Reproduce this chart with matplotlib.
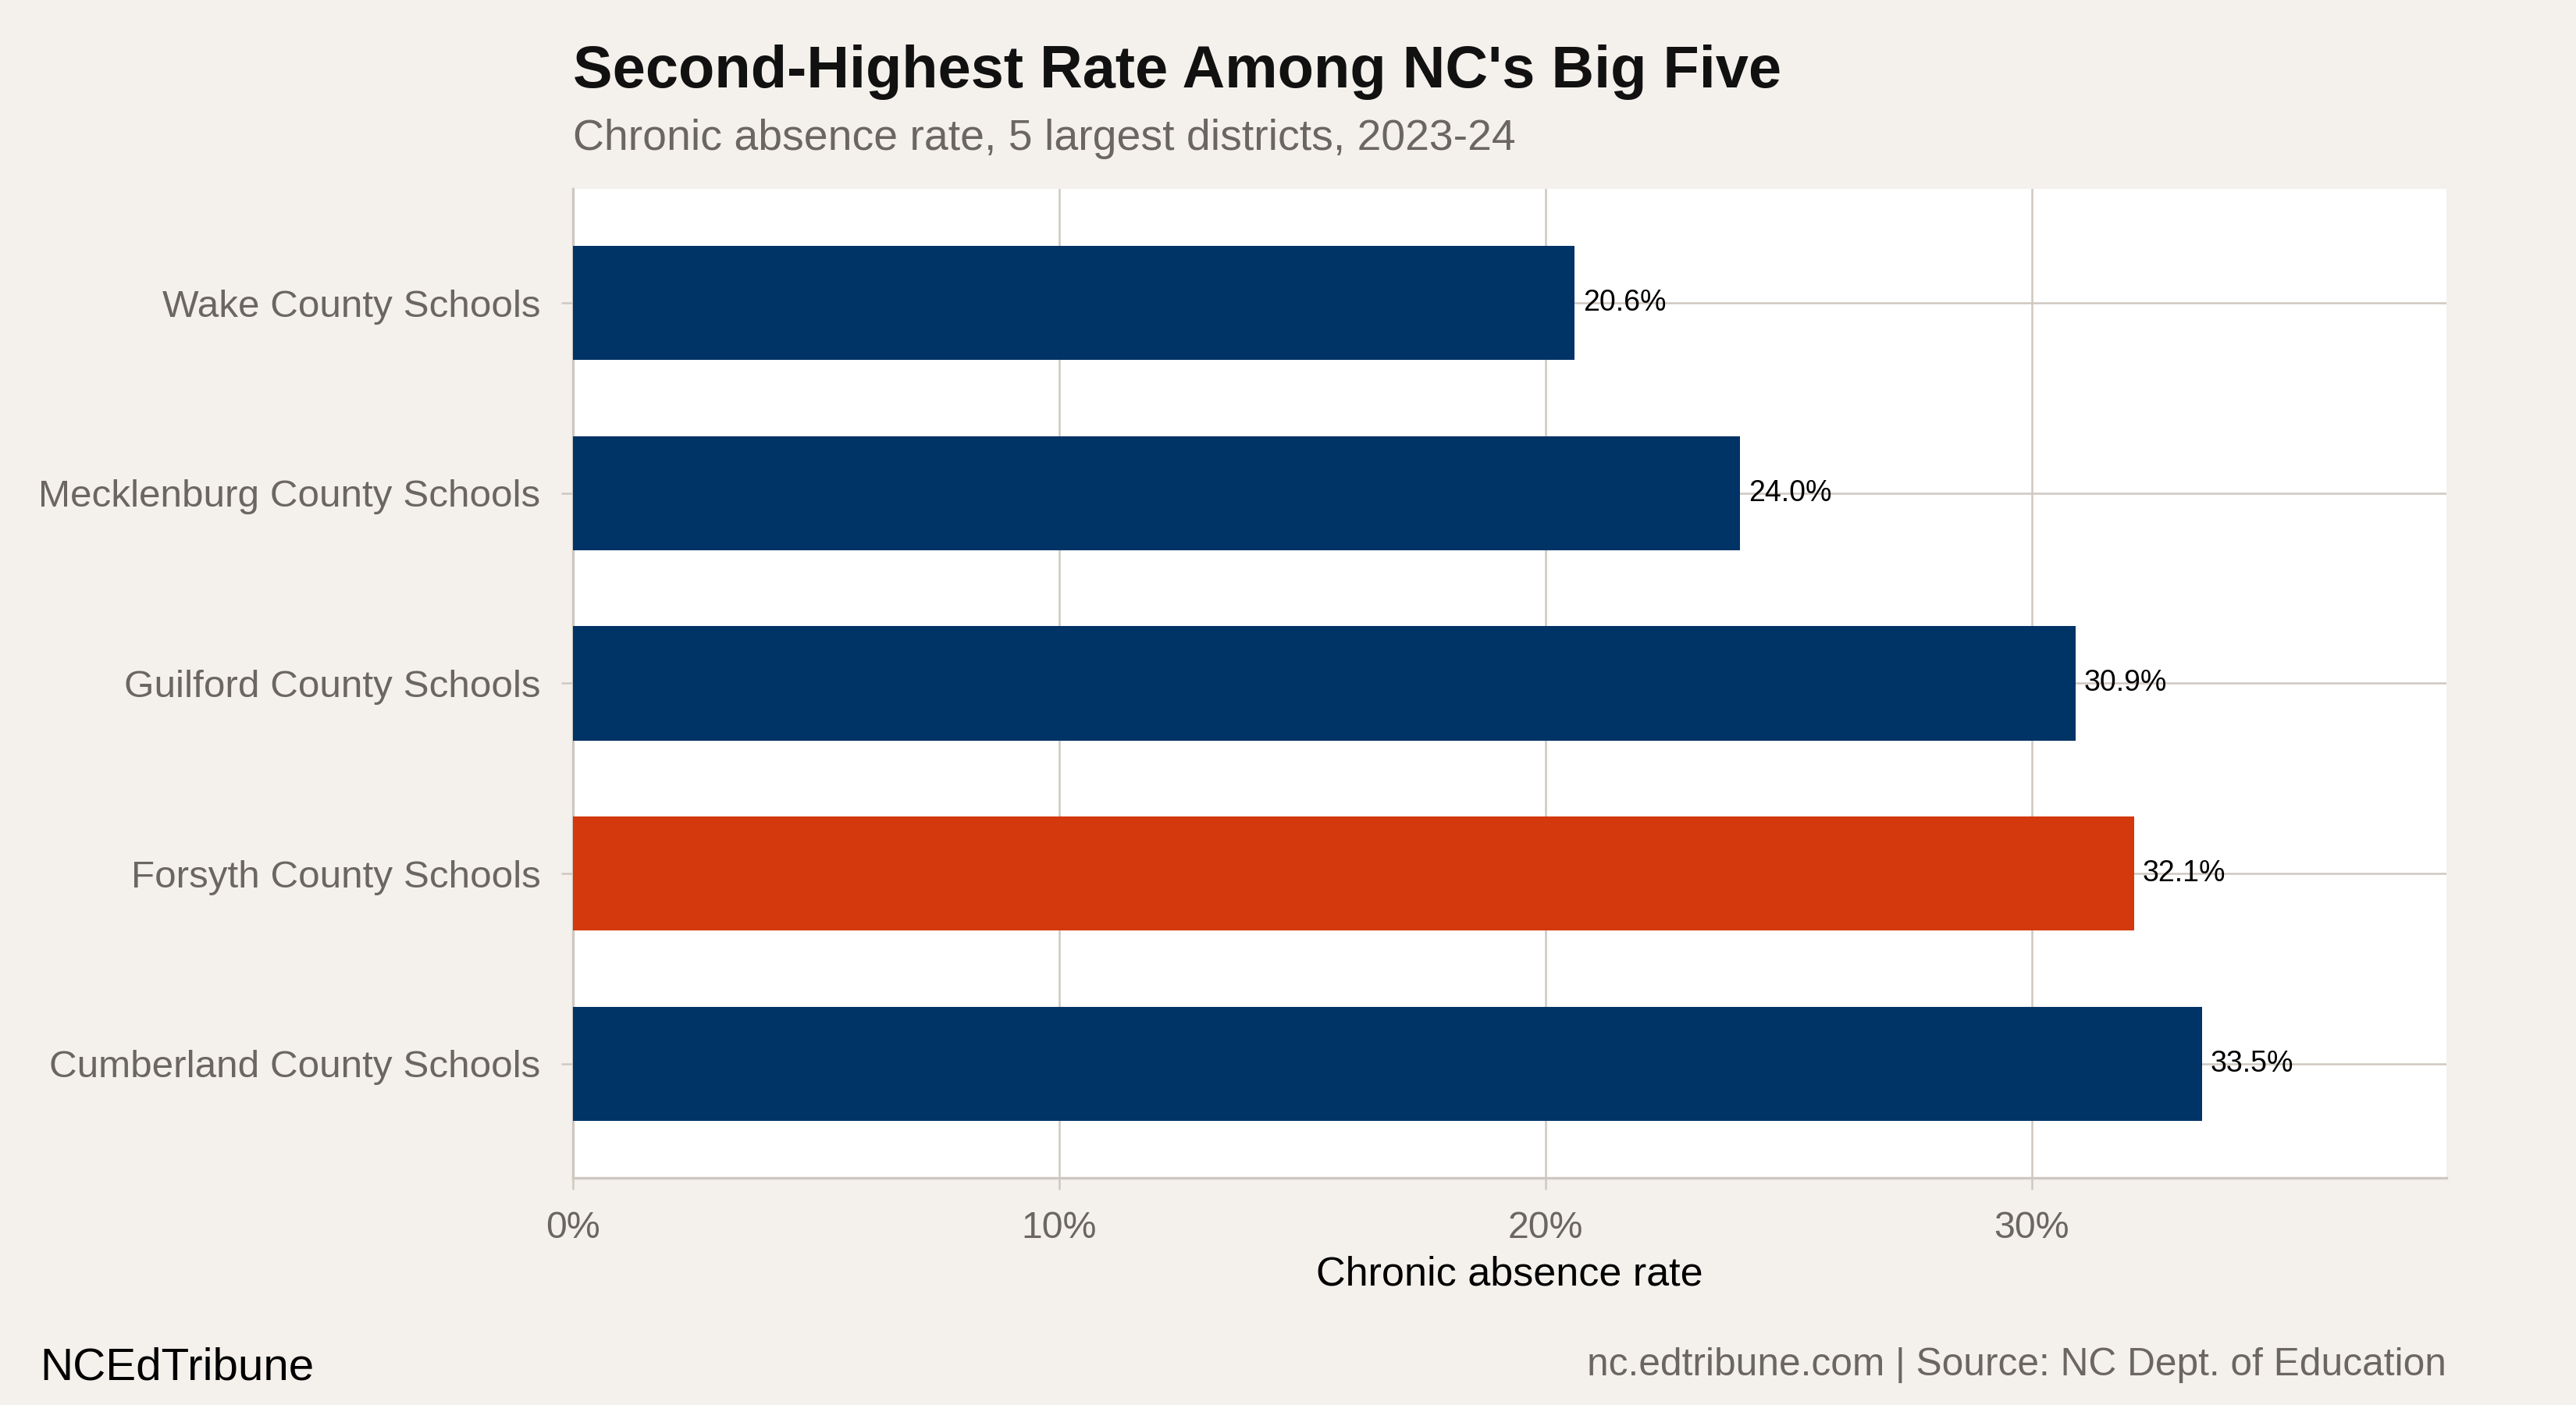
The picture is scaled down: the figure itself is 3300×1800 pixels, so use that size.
import matplotlib.pyplot as plt
import numpy as np

# data
districts = ["Wake County Schools", "Mecklenburg County Schools", "Guilford County Schools",
             "Forsyth County Schools", "Cumberland County Schools"]
rates = [20.6, 24.0, 30.9, 32.1, 33.5]
highlight = "Forsyth County Schools"
x_ticks = [0, 10, 20, 30]
x_tick_labels = ["0%", "10%", "20%", "30%"]

NAVY = "#003366"
ORANGE = "#D4380D"
BG = "#F4F1EC"
GRID = "#CEC8C0"
GREY_TXT = "#6B6760"

plt.rcParams['font.family'] = ['Liberation Sans', 'DejaVu Sans']

fig = plt.figure(figsize=(11, 6), dpi=300, facecolor=BG)
ax = fig.add_axes([0.2224, 0.1617, 0.9497 - 0.2224, 0.8656 - 0.1617])
ax.set_facecolor("white")

y = np.arange(len(districts))
colors = [ORANGE if d == highlight else NAVY for d in districts]
ax.barh(y, rates, height=0.6, color=colors, zorder=3)

# value labels just right of each bar
for yi, r in zip(y, rates):
    ax.annotate(f"{r:.1f}%", (r, yi), xytext=(2.6, 0), textcoords="offset points",
                ha="left", va="center", fontsize=9, color="black", zorder=4)

ax.set_xlim(0, max(rates) * 1.15)
ax.set_ylim(len(districts) - 0.4, -0.6)
ax.set_yticks(y)
ax.set_yticklabels(districts)
ax.set_xticks(x_ticks)
ax.set_xticklabels(x_tick_labels)

ax.grid(True, color=GRID, linewidth=0.6, zorder=0)
for s in ["top", "right"]:
    ax.spines[s].set_visible(False)
for s in ["left", "bottom"]:
    ax.spines[s].set_color(GRID)
    ax.spines[s].set_linewidth(0.8)

ax.tick_params(axis="both", colors=GRID, labelcolor=GREY_TXT, labelsize=11.6,
               length=3.5, width=0.6, pad=6.5)
ax.tick_params(axis="y", labelsize=11.85)

ax.set_xlabel("Chronic absence rate", fontsize=12.5, color="black", labelpad=3)

fig.text(0.2224, 0.9378, "Second-Highest Rate Among NC's Big Five", fontsize=18.2,
         fontweight="bold", color="#111111", ha="left", va="baseline")
fig.text(0.2224, 0.8933, "Chronic absence rate, 5 largest districts, 2023-24", fontsize=13.3,
         color=GREY_TXT, ha="left", va="baseline")
fig.text(0.0155, 0.0183, "NCEdTribune", fontsize=14, color="black", ha="left", va="baseline")
fig.text(0.9497, 0.021, "nc.edtribune.com | Source: NC Dept. of Education", fontsize=11.93,
         color=GREY_TXT, ha="right", va="baseline")

fig.savefig("out.png", dpi=300, facecolor=BG)
